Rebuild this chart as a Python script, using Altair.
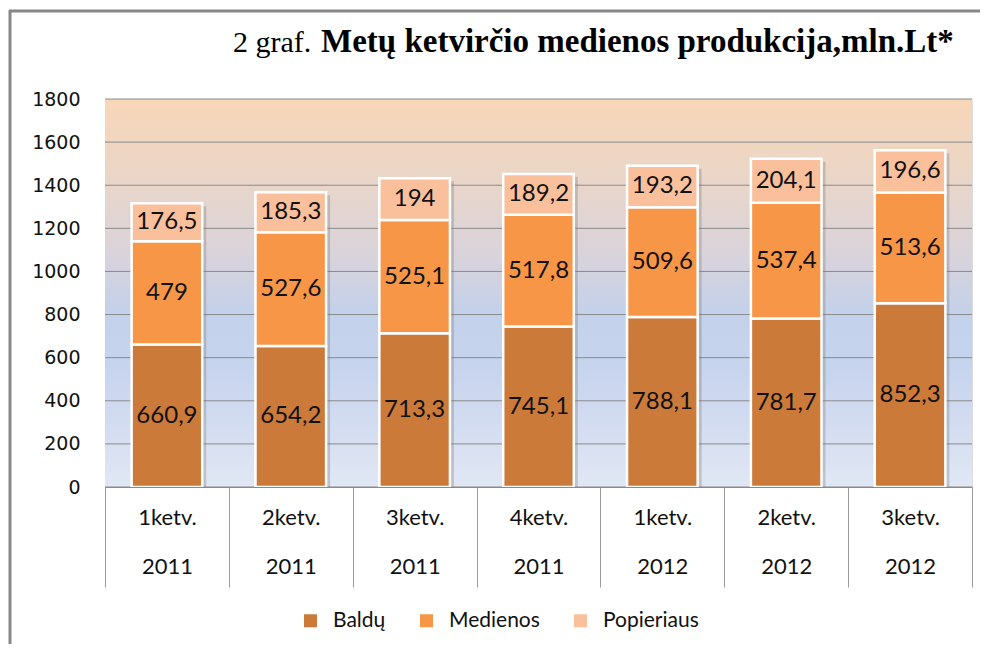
import altair as alt
import pandas as pd

quarters = ["1ketv.", "2ketv.", "3ketv.", "4ketv.", "1ketv.", "2ketv.", "3ketv."]
years = ["2011", "2011", "2011", "2011", "2012", "2012", "2012"]
series = ["Baldų", "Medienos", "Popieriaus"]
baldu = [660.9, 654.2, 713.3, 745.1, 788.1, 781.7, 852.3]
medienos = [479, 527.6, 525.1, 517.8, 509.6, 537.4, 513.6]
popieriaus = [176.5, 185.3, 194, 189.2, 193.2, 204.1, 196.6]
y_ticks = [0, 200, 400, 600, 800, 1000, 1200, 1400, 1600, 1800]
colors = ["#CB7A3A", "#F79646", "#FAC09C"]

W, H = 867, 388

cats = [f"{q}|{y}" for q, y in zip(quarters, years)]
rows = []
totals = []
for ci, cat in enumerate(cats):
    base = 0.0
    for si, vals in enumerate([baldu, medienos, popieriaus]):
        v = vals[ci]
        rows.append(dict(cat=cat, series=series[si], order=si, y0=base, y1=base + v,
                         mid=base + v / 2, label=f"{v:g}".replace(".", ",")))
        base += v
    totals.append(dict(cat=cat, total=base))
df = pd.DataFrame(rows)
tot = pd.DataFrame(totals)
grid = pd.DataFrame({"v": y_ticks})

xenc = alt.X("cat:N", sort=cats,
             scale=alt.Scale(paddingInner=0, paddingOuter=0),
             axis=alt.Axis(title=None, labelExpr="split(datum.label, '|')", labelAngle=0,
                           tickBand="extent", tickSize=100, tickColor="#9a9a9a", tickWidth=1,
                           domainColor="#8a8a8a", labelPadding=-80, labelBaseline="top",
                           labelLineHeight=49, labelFont="Lato", labelFontSize=22,
                           labelColor="#111111", grid=False, zindex=1))
yscale = alt.Scale(domain=[0, 1800], nice=False, zero=True)
yaxis = alt.Axis(title=None, values=y_ticks, grid=False, ticks=False, domain=False,
                 format="d",
                 labelFont="DejaVu Sans", labelFontSize=19, labelPadding=25,
                 labelColor="#111111")

gradient = alt.LinearGradient(
    gradient="linear", x1=0, x2=0, y1=0, y2=1,
    stops=[alt.GradientStop(color="#F8D6B8", offset=0),
           alt.GradientStop(color="#EAD6C8", offset=0.2),
           alt.GradientStop(color="#D9D3DB", offset=0.4),
           alt.GradientStop(color="#C3D1EA", offset=0.55),
           alt.GradientStop(color="#C7D4EE", offset=0.7),
           alt.GradientStop(color="#E1E7F4", offset=1)])

bg = alt.Chart(alt.Data(values=[{}])).mark_rect(color=gradient).encode(
    x=alt.value(0), x2=alt.value(W), y=alt.value(0), y2=alt.value(H))

gridlines = alt.Chart(grid).mark_rule(color="#8a8a8a", strokeWidth=1).encode(
    y=alt.Y("v:Q", scale=yscale, axis=yaxis))

band = alt.RelativeBandSize(0.57)

shadow = alt.Chart(tot).mark_bar(color="#6f6f6f", opacity=0.3, xOffset=4, yOffset=3,
                                 width=band).encode(
    x=xenc, y=alt.Y("total:Q", scale=yscale, axis=yaxis), y2=alt.datum(0))

bars = alt.Chart(df).mark_bar(stroke="white", strokeWidth=2.5, width=band).encode(
    x=xenc,
    y=alt.Y("y0:Q", scale=yscale, axis=yaxis),
    y2="y1:Q",
    color=alt.Color("series:N", sort=series,
                    scale=alt.Scale(domain=series, range=colors),
                    legend=alt.Legend(title=None, orient="none", legendX=195, legendY=511,
                                      direction="horizontal", symbolType="square",
                                      symbolSize=169, symbolStrokeWidth=0,
                                      labelFont="Lato", labelFontSize=21, labelColor="#111111",
                                      columnPadding=30, labelOffset=12, padding=0)),
    order=alt.Order("order:Q"))

labels = alt.Chart(df).mark_text(font="Lato", fontSize=24, color="#111111").encode(
    x=xenc, y=alt.Y("mid:Q", scale=yscale, axis=yaxis), text="label:N")

title_pre = alt.Chart(alt.Data(values=[{}])).mark_text(
    font="Liberation Serif", fontSize=30, align="left", baseline="alphabetic",
    color="#000000").encode(x=alt.value(128), y=alt.value(-47), text=alt.value("2 graf."))

title_main = alt.Chart(alt.Data(values=[{}])).mark_text(
    font="Liberation Serif", fontSize=33, fontWeight="bold", align="left",
    baseline="alphabetic", color="#000000").encode(
    x=alt.value(216), y=alt.value(-47),
    text=alt.value("Metų ketvirčio medienos produkcija,mln.Lt*"))

frame_left = alt.Chart(alt.Data(values=[{}])).mark_rule(color="#878787", strokeWidth=3).encode(
    x=alt.value(-95), y=alt.value(-89), y2=alt.value(600))
frame_top = alt.Chart(alt.Data(values=[{}])).mark_rule(color="#878787", strokeWidth=3).encode(
    x=alt.value(-96), x2=alt.value(900), y=alt.value(-88))

chart = alt.layer(bg, gridlines, shadow, bars, labels, title_pre, title_main,
                  frame_left, frame_top).properties(
    width=W, height=H,
    autosize=alt.AutoSizeParams(type="none"),
    padding={"left": 97, "top": 91, "right": 8, "bottom": 157},
).configure_view(stroke=None).configure(background="white")

chart.save("out.html", embed_options={"renderer": "svg", "actions": False})
